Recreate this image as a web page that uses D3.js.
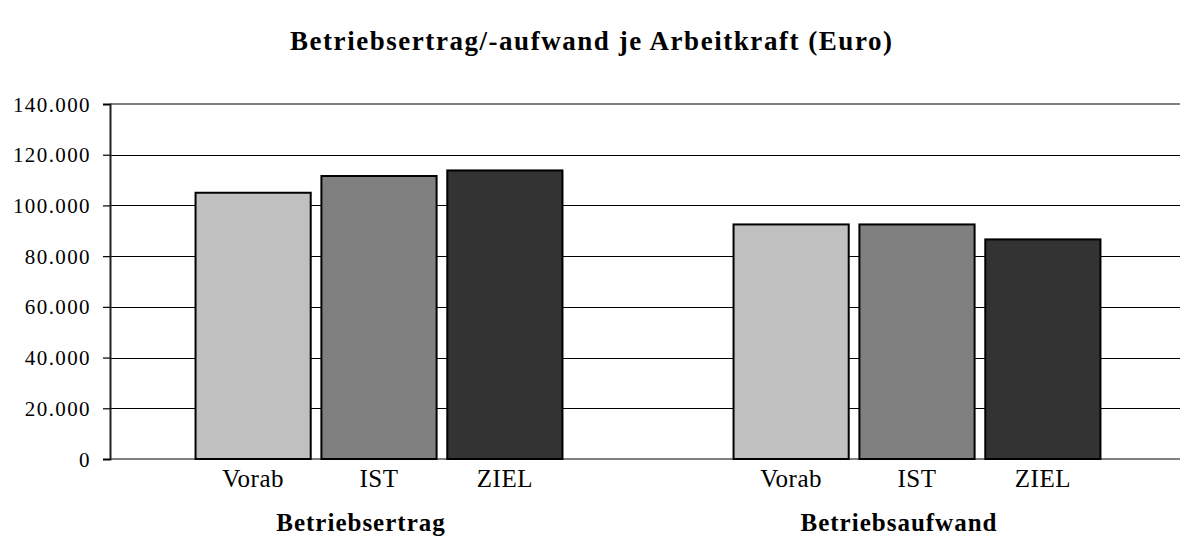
<!DOCTYPE html>
<html>
<head>
<meta charset="utf-8">
<script src="https://cdn.jsdelivr.net/npm/d3@7"></script>
<style>
  html, body { margin: 0; padding: 0; background: #fff; }
  svg { display: block; }
  text { font-family: "Liberation Serif", "Times New Roman", serif; fill: #000; }
</style>
</head>
<body>
<svg id="chart" width="1180" height="537"></svg>
<script>
const groups = ["Betriebsertrag", "Betriebsaufwand"];
const seriesNames = ["Vorab", "IST", "ZIEL"];
const vorab = [105000, 92500];
const ist = [111600, 92500];
const ziel = [113800, 86600];
const yTicks = [0, 20000, 40000, 60000, 80000, 100000, 120000, 140000];
const colors = ["#c0c0c0", "#808080", "#333333"];
const title = "Betriebsertrag/-aufwand je Arbeitkraft (Euro)";

const seriesValues = [vorab, ist, ziel];
const data = [];
groups.forEach((g, gi) => {
  seriesNames.forEach((s, si) => data.push({ group: g, series: s, value: seriesValues[si][gi], si }));
});

const svg = d3.select("#chart");
const plotLeft = 110, plotRight = 1186, plotTop = 104, plotBottom = 459;

const locale = d3.formatLocale({ decimal: ",", thousands: ".", grouping: [3], currency: ["", "€"] });
const fmt = locale.format(",");

const y = d3.scaleLinear().domain([0, 140000]).range([plotBottom, plotTop]);
const x0 = d3.scaleBand().domain(groups).range([plotLeft, plotRight]).padding(0);
const bw = x0.bandwidth();
const x1 = d3.scaleBand().domain(seriesNames).range([bw * 0.159, bw * 0.841]).paddingInner(0.085).paddingOuter(0);

// title
svg.append("text")
  .attr("x", 591).attr("y", 50)
  .attr("text-anchor", "middle")
  .attr("font-weight", "bold")
  .attr("font-size", 27)
  .attr("textLength", 602)
  .attr("lengthAdjust", "spacing")
  .text(title);

// gridlines
svg.append("g").selectAll("line")
  .data(yTicks.filter(t => t > 0 && t < 140000))
  .join("line")
  .attr("x1", plotLeft).attr("x2", plotRight)
  .attr("y1", d => Math.round(y(d)) + 0.5).attr("y2", d => Math.round(y(d)) + 0.5)
  .attr("stroke", "#000").attr("stroke-width", 1);

// plot border top & bottom (gray)
svg.append("line").attr("x1", plotLeft).attr("x2", plotRight).attr("y1", y(140000)).attr("y2", y(140000))
  .attr("stroke", "#808080").attr("stroke-width", 2);
svg.append("line").attr("x1", plotLeft).attr("x2", plotRight).attr("y1", y(0)).attr("y2", y(0))
  .attr("stroke", "#808080").attr("stroke-width", 2);

// y axis
const yAxis = d3.axisLeft(y).tickValues(yTicks).tickFormat(fmt).tickSize(7).tickPadding(12);
const ya = svg.append("g").attr("transform", `translate(${plotLeft},0)`).call(yAxis);
ya.select(".domain").attr("stroke", "#222").attr("stroke-width", 2);
ya.selectAll(".tick line").attr("stroke", "#000").attr("stroke-width", 1.2);
ya.selectAll(".tick text")
  .attr("font-family", "'Liberation Serif', 'Times New Roman', serif")
  .attr("font-size", 21)
  .attr("letter-spacing", 1.4)
  .attr("fill", "#000")
  .attr("dy", "0.34em");

// bars
svg.append("g").selectAll("rect")
  .data(data)
  .join("rect")
  .attr("x", d => x0(d.group) + x1(d.series))
  .attr("width", x1.bandwidth())
  .attr("y", d => y(d.value))
  .attr("height", d => y(0) - y(d.value))
  .attr("fill", d => colors[d.si])
  .attr("stroke", "#000")
  .attr("stroke-width", 2);

// category labels
svg.append("g").selectAll("text")
  .data(data)
  .join("text")
  .attr("x", d => x0(d.group) + x1(d.series) + x1.bandwidth() / 2)
  .attr("y", 487)
  .attr("text-anchor", "middle")
  .attr("font-size", 25)
  .attr("letter-spacing", 0.5)
  .text(d => d.series);

// group labels
svg.append("g").selectAll("text")
  .data(groups)
  .join("text")
  .attr("x", d => x0(d) + bw / 2 - 18)
  .attr("y", 531)
  .attr("text-anchor", "middle")
  .attr("font-weight", "bold")
  .attr("font-size", 25)
  .attr("letter-spacing", 1.0)
  .text(d => d);
</script>
</body>
</html>
